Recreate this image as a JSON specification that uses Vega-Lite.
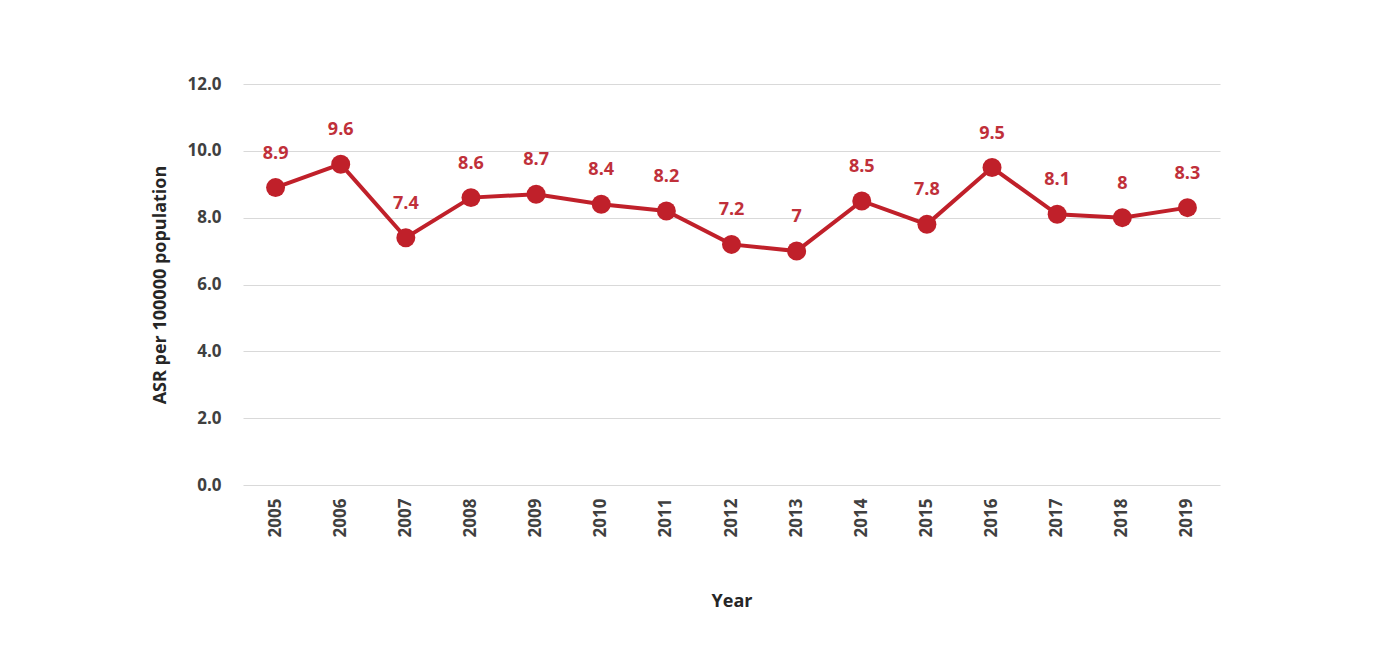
{
  "$schema": "https://vega.github.io/schema/vega-lite/v6.json",
  "autosize": "none",
  "width": 977,
  "height": 401,
  "padding": {"left": 243, "top": 84, "right": 171, "bottom": 163},
  "background": "white",
  "data": {"values": [
    {"Year": "2005", "ASR": 8.9},
    {"Year": "2006", "ASR": 9.6},
    {"Year": "2007", "ASR": 7.4},
    {"Year": "2008", "ASR": 8.6},
    {"Year": "2009", "ASR": 8.7},
    {"Year": "2010", "ASR": 8.4},
    {"Year": "2011", "ASR": 8.2},
    {"Year": "2012", "ASR": 7.2},
    {"Year": "2013", "ASR": 7},
    {"Year": "2014", "ASR": 8.5},
    {"Year": "2015", "ASR": 7.8},
    {"Year": "2016", "ASR": 9.5},
    {"Year": "2017", "ASR": 8.1},
    {"Year": "2018", "ASR": 8},
    {"Year": "2019", "ASR": 8.3}
  ]},
  "encoding": {
    "x": {
      "field": "Year", "type": "ordinal",
      "scale": {"type": "band", "paddingInner": 0, "paddingOuter": 0},
      "axis": {
        "title": "Year", "labelAngle": -90, "labelAlign": "right", "labelBaseline": "middle",
        "labelPadding": 13, "titlePadding": 56, "ticks": false, "domain": false, "grid": false
      }
    },
    "y": {
      "field": "ASR", "type": "quantitative",
      "scale": {"domain": [0, 12]},
      "axis": {
        "title": "ASR per 100000 population", "values": [0, 2, 4, 6, 8, 10, 12], "format": ".1f",
        "labelPadding": 22, "titlePadding": 17, "ticks": false, "domain": false,
        "grid": true, "gridColor": "#d9d9d9", "gridWidth": 1.2
      }
    }
  },
  "layer": [
    {"mark": {"type": "line", "color": "#c0202a", "strokeWidth": 4}},
    {"mark": {"type": "point", "filled": true, "opacity": 1, "color": "#c0202a", "size": 360}},
    {"mark": {"type": "text", "color": "#c0303a", "fontSize": 18, "fontWeight": "bold", "font": "Open Sans", "dy": -34},
     "encoding": {"text": {"field": "ASR", "type": "quantitative"}}}
  ],
  "config": {
    "view": {"stroke": null},
    "axis": {
      "labelFont": "Open Sans", "labelFontSize": 17, "labelFontWeight": "bold", "labelColor": "#404040",
      "titleFont": "Open Sans", "titleFontSize": 18, "titleFontWeight": "bold", "titleColor": "#262626"
    }
  }
}
